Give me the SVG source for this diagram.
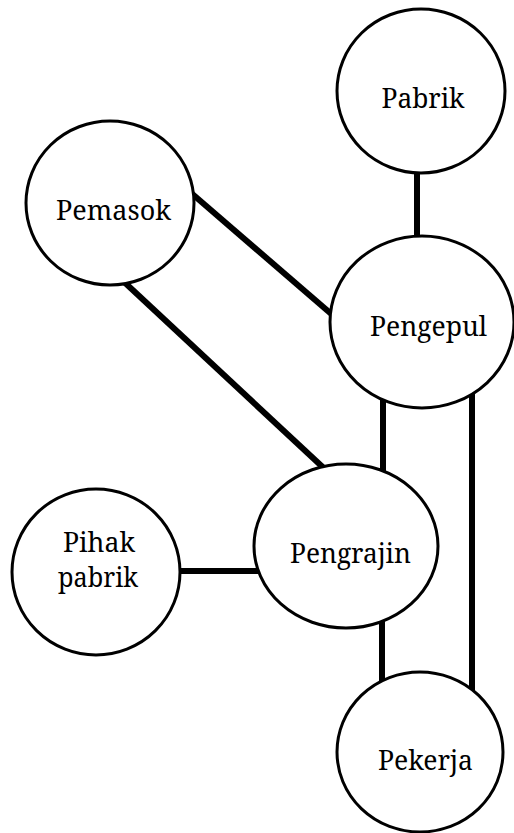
<svg xmlns="http://www.w3.org/2000/svg" width="514" height="833" viewBox="0 0 514 833">
  <style>
    .edge { stroke: #000; stroke-width: 6; fill: none; }
    .node ellipse { fill: #fff; stroke: #000; stroke-width: 3; }
    .node text { font-family: 'Noto Serif', 'DejaVu Serif', serif; font-size: 28px; fill: #000; text-anchor: middle; }
  </style>
  <rect width="514" height="833" fill="#fff"/>

  <!-- connectors (drawn under the nodes) -->
  <g id="connectors">
    <line class="edge" x1="417" y1="165" x2="417" y2="245"/>
    <line class="edge" x1="190" y1="192" x2="336" y2="318"/>
    <line class="edge" x1="122" y1="280" x2="328" y2="472"/>
    <line class="edge" x1="383" y1="395" x2="383" y2="475"/>
    <line class="edge" x1="472" y1="385" x2="472" y2="695"/>
    <line class="edge" x1="175" y1="571" x2="262" y2="571"/>
    <line class="edge" x1="382" y1="615" x2="382" y2="690"/>
  </g>

  <g id="pabrik" class="node">
    <ellipse cx="421" cy="91" rx="84" ry="82"/>
    <text x="423" y="108" textLength="83" lengthAdjust="spacingAndGlyphs">Pabrik</text>
  </g>

  <g id="pemasok" class="node">
    <ellipse cx="110" cy="203" rx="84" ry="82"/>
    <text x="113.5" y="220" textLength="115" lengthAdjust="spacingAndGlyphs">Pemasok</text>
  </g>

  <g id="pengepul" class="node">
    <ellipse cx="422" cy="322" rx="92" ry="86"/>
    <text x="428.5" y="336" textLength="117" lengthAdjust="spacingAndGlyphs">Pengepul</text>
  </g>

  <g id="pengrajin" class="node">
    <ellipse cx="346" cy="546" rx="92" ry="82"/>
    <text x="350.5" y="563" textLength="121" lengthAdjust="spacingAndGlyphs">Pengrajin</text>
  </g>

  <g id="pihak-pabrik" class="node">
    <ellipse cx="96" cy="572" rx="84" ry="83"/>
    <text x="99" y="552" textLength="72" lengthAdjust="spacingAndGlyphs">Pihak</text>
    <text x="98" y="587" textLength="80" lengthAdjust="spacingAndGlyphs">pabrik</text>
  </g>

  <g id="pekerja" class="node">
    <ellipse cx="420" cy="752" rx="83" ry="80"/>
    <text x="425.5" y="770" textLength="95" lengthAdjust="spacingAndGlyphs">Pekerja</text>
  </g>
</svg>
